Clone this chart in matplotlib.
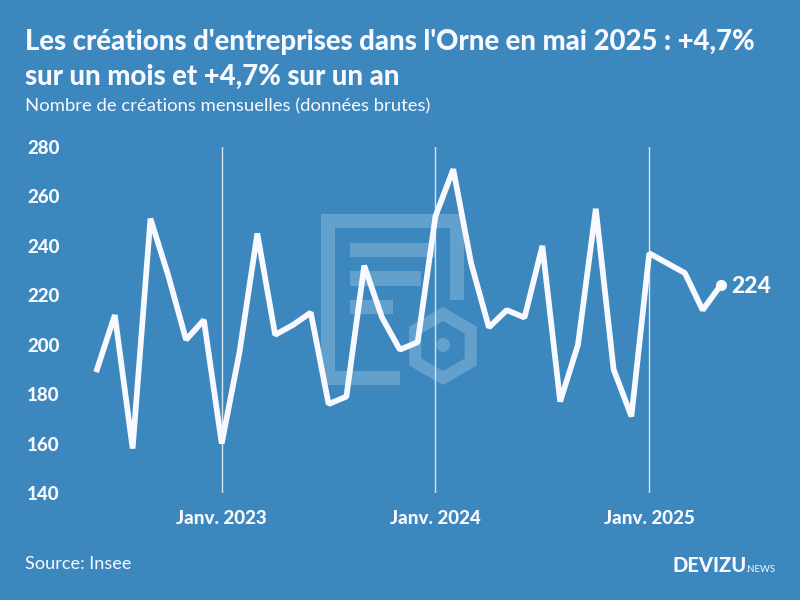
import matplotlib
matplotlib.use("Agg")
import matplotlib.pyplot as plt
import matplotlib.patches as mpatches
import numpy as np

plt.rcParams['font.family'] = ['Lato', 'DejaVu Sans']

# monthly values, June 2022 to May 2025
months = list(range(36))
values = [190, 212, 158, 251, 228, 202, 210,
          160, 197, 245, 204, 208, 213, 176, 179, 232, 211, 198, 201,
          252, 271, 233, 207, 214, 211, 240, 177, 200, 255, 190, 171,
          237, 233, 229, 214, 224]
year_ticks = [7, 19, 31]
year_labels = ["Janv. 2023", "Janv. 2024", "Janv. 2025"]
y_ticks = [140, 160, 180, 200, 220, 240, 260, 280]

bg = "#3d87bf"
white = "#f8f9ff"

fig = plt.figure(figsize=(8, 6), dpi=100, facecolor=bg)

# watermark in pixel coordinates, behind the chart
wm = fig.add_axes([0, 0, 1, 1], zorder=0)
wm.set_xlim(0, 800)
wm.set_ylim(600, 0)
wm.axis("off")
wm_color = "#64a0cc"
for x, y, w, h in [(321, 214, 143, 14), (321, 214, 14, 171), (321, 371, 79, 14),
                   (450, 214, 14, 86), (350, 243, 85, 14), (350, 271, 71, 15),
                   (350, 300, 43, 14)]:
    wm.add_patch(mpatches.Rectangle((x, y), w, h, color=wm_color, lw=0))
wm.add_patch(mpatches.RegularPolygon((443, 346), 6, radius=39, color=wm_color, lw=0))
wm.add_patch(mpatches.RegularPolygon((443, 346), 6, radius=25, color=bg, lw=0))
wm.add_patch(mpatches.Circle((443, 345), 7, color=wm_color, lw=0))

ax = fig.add_axes([97 / 800, 107 / 600, 623.5 / 800, 346 / 600], zorder=1)
ax.patch.set_alpha(0)
ax.set_xlim(0, 35)
ax.set_ylim(140, 280)
for s in ax.spines.values():
    s.set_visible(False)

for t in year_ticks:
    ax.axvline(t, color="#d5e3ef", lw=1, zorder=1)

ax.plot(months, values, color=white, lw=4.1, solid_joinstyle="bevel", clip_on=False, zorder=3)
ax.plot(months[-1], values[-1], "o", color=white, ms=7, clip_on=False, zorder=4)
ax.annotate(str(values[-1]), (months[-1], values[-1]), xytext=(7.5, -0.7), textcoords="offset points",
            color=white, fontsize=16.5, fontweight=900, va="center", ha="left")

ax.set_xticks(year_ticks)
ax.set_xticklabels(year_labels, fontsize=13.5, fontweight=900, color=white)
ax.set_yticks(y_ticks)
ax.set_yticklabels(y_ticks, fontsize=13.5, fontweight=900, color=white)
ax.tick_params(axis="x", length=0, pad=12)
ax.tick_params(axis="y", length=0, pad=27)

fig.text(25 / 800, 1 - 42 / 600, "Les créations d'entreprises dans l'Orne en mai 2025 : +4,7%",
         fontsize=19.8, fontweight=900, color=white, va="center")
fig.text(25 / 800, 1 - 77 / 600, "sur un mois et +4,7% sur un an",
         fontsize=19.8, fontweight=900, color=white, va="center")
fig.text(25 / 800, 1 - 106 / 600, "Nombre de créations mensuelles (données brutes)",
         fontsize=13.3, color=white, va="center")
fig.text(25 / 800, 1 - 564 / 600, "Source: Insee", fontsize=13.1, color=white, va="center")
fig.text(673 / 800, 1 - 566 / 600, "DEVIZU", fontsize=14.5, fontweight=900, color=white, va="center")
fig.text(745 / 800, 1 - 569 / 600, ".NEWS", fontsize=6.8, color=white, va="center")

fig.savefig("out.png", dpi=100, facecolor=bg)
